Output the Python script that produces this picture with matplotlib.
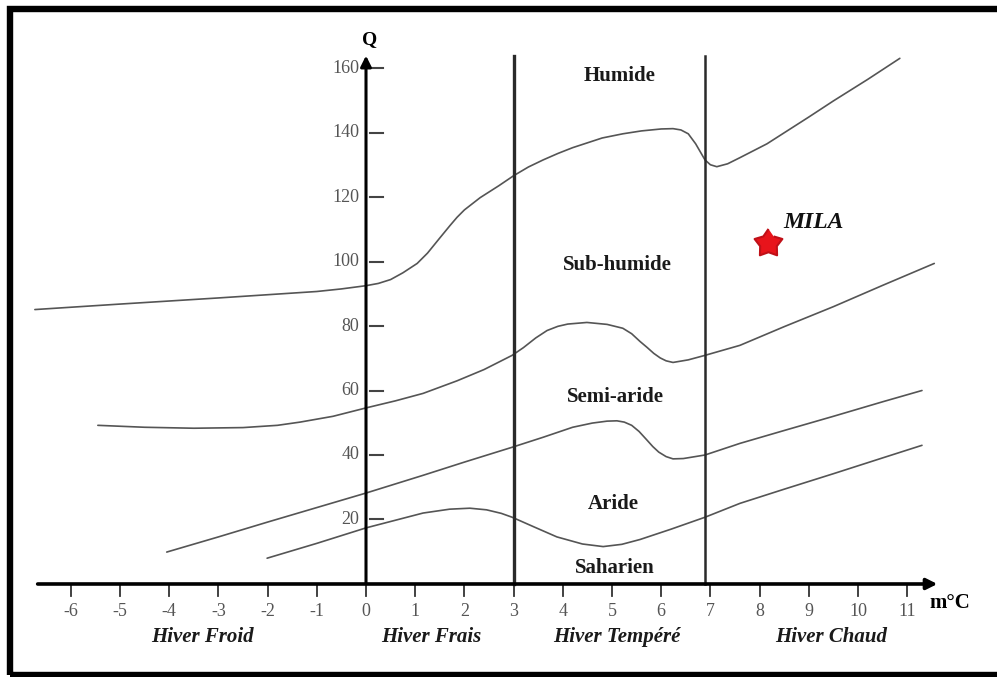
import numpy as np
import matplotlib.pyplot as plt
from matplotlib.patches import Rectangle

# Emberger climagram: Q (pluviothermic quotient) vs m (mean min temp of coldest month)
c1_x = [-6.73, -5, -3, -1, -0.5, 0, 0.25, 0.5, 0.75, 1.04, 1.25, 1.5, 1.71, 1.85, 2.0, 2.32, 2.7, 3.0, 3.3, 3.6, 3.9,
        4.2, 4.5, 4.8, 5.22, 5.6, 6.0, 6.24, 6.4, 6.55, 6.7, 6.89, 7.0, 7.13, 7.35, 7.6, 8.15, 9.0, 9.5, 10.2, 10.85]
c1_q = [85.1, 86.8, 88.7, 90.7, 91.5, 92.5, 93.2, 94.4, 96.5, 99.4, 102.6, 107.3, 111.2, 113.7, 116.0, 119.8, 123.5, 126.6, 129.3, 131.5, 133.5,
        135.3, 136.8, 138.3, 139.6, 140.5, 141.1, 141.2, 140.8, 139.6, 136.5, 131.5, 130.0, 129.4, 130.3, 132.2, 136.5, 144.8, 149.8, 156.5, 163.0]

c2_x = [-5.45, -4.5, -3.5, -2.5, -1.8, -1.34, -0.67, 0, 0.6, 1.16, 1.85, 2.4, 2.97, 3.2, 3.45, 3.68, 3.9, 4.1, 4.49, 4.9,
        5.22, 5.4, 5.57, 5.71, 5.85, 5.98, 6.1, 6.24, 6.55, 6.89, 7.6, 8.5, 9.5, 10.5, 11.55]
c2_q = [49.2, 48.6, 48.3, 48.5, 49.2, 50.2, 52.0, 54.6, 56.8, 59.1, 63.0, 66.5, 70.9, 73.3, 76.3, 78.6, 79.9, 80.6, 81.1, 80.5,
        79.3, 77.6, 75.2, 73.4, 71.5, 70.1, 69.2, 68.7, 69.5, 70.9, 74.0, 79.8, 86.0, 92.6, 99.4]

c3_x = [-4.05, -3, -2, -1, 0, 1.16, 2, 2.97, 3.6, 4.2, 4.6, 4.9, 5.1, 5.25, 5.4, 5.55, 5.7, 5.83, 5.95, 6.1,
        6.24, 6.45, 6.89, 7.6, 8.5, 9.5, 10.5, 11.3]
c3_q = [9.9, 14.6, 19.2, 23.7, 28.2, 33.7, 37.8, 42.4, 45.5, 48.6, 49.9, 50.5, 50.6, 50.2, 49.2, 47.3, 44.8, 42.6, 40.9, 39.5,
        38.8, 38.9, 40.0, 43.6, 47.6, 52.0, 56.5, 60.0]

c4_x = [-2.01, -1, 0, 1.16, 1.7, 2.11, 2.45, 2.75, 2.97, 3.4, 3.88, 4.4, 4.82, 5.2, 5.57, 6.2, 6.89, 7.6, 8.5, 9.5,
        10.5, 11.3]
c4_q = [8.0, 12.6, 17.4, 22.0, 23.2, 23.5, 23.0, 21.9, 20.7, 17.8, 14.6, 12.4, 11.6, 12.3, 13.8, 17.0, 20.7, 25.0, 29.4, 34.2,
        39.1, 43.0]

x_ticks = list(range(-6, 12))
y_ticks = [20, 40, 60, 80, 100, 120, 140, 160]
winter_limits = [3, 6.9]

zones = ["Humide", "Sub-humide", "Semi-aride", "Aride", "Saharien"]
zone_q = [157.5, 98.9, 58.0, 24.8, 5.0]
zone_x = [5.16, 5.1, 5.06, 5.02, 5.06]

winters = ["Hiver Froid", "Hiver Frais", "Hiver Tempéré", "Hiver Chaud"]
winter_x = [-3.32, 1.32, 5.1, 9.45]

station = "MILA"
station_m = 8.17
station_q = 105.7

fig = plt.figure(figsize=(9.97, 6.77), dpi=100)
ax = fig.add_axes([0, 0, 1, 1])
ax.set_xlim(-7.439, 12.825)
ax.set_ylim(-28.84, 181.09)
ax.axis("off")

serif = "Liberation Serif"
curve_col = "#555555"

for cx, cq in [(c1_x, c1_q), (c2_x, c2_q), (c3_x, c3_q), (c4_x, c4_q)]:
    ax.plot(cx, cq, color=curve_col, lw=1.2, solid_capstyle="round", solid_joinstyle="round")

# winter type boundaries
ax.plot([winter_limits[0]] * 2, [0, 163.8], color="#2a2a2a", lw=2.4)
ax.plot([winter_limits[1]] * 2, [0, 163.8], color="#2a2a2a", lw=1.8)

# axes with arrows
ax.annotate("", xy=(0, 164.7), xytext=(0, -0.5),
            arrowprops=dict(arrowstyle="-|>", lw=2.2, color="black", mutation_scale=16))
ax.annotate("", xy=(11.67, 0), xytext=(-6.73, 0),
            arrowprops=dict(arrowstyle="-|>", lw=2.6, color="black", mutation_scale=16))

for t in x_ticks:
    ax.plot([t, t], [0, -3.7], color="#333333", lw=1.3)
    ax.text(t, -8.4, str(t), ha="center", va="center", fontsize=13,
            family=serif, color="#555555")

for t in y_ticks:
    ax.plot([0.08, 0.35], [t, t], color="#444444", lw=1.5)
    ax.text(-0.14, t, str(t), ha="right", va="center", fontsize=13,
            family=serif, color="#555555")

ax.text(0.08, 168.7, "Q", ha="center", va="center", fontsize=14,
        family=serif, fontweight="bold")
ax.text(11.46, -5.9, "m°C", ha="left", va="center", fontsize=15,
        family=serif, fontweight="bold")

for name, zx, zq in zip(zones, zone_x, zone_q):
    ax.text(zx, zq, name, ha="center", va="center", fontsize=15,
            family=serif, fontweight="bold", color="#1a1a1a")

for name, wx in zip(winters, winter_x):
    ax.text(wx, -16.3, name, ha="center", va="center", fontsize=15,
            family=serif, fontweight="bold", style="italic", color="#1a1a1a")

# plump five-pointed star for the station
ang = np.pi / 2 + np.arange(10) * np.pi / 5
rad = np.where(np.arange(10) % 2 == 0, 1.0, 0.6)
star = np.column_stack([rad * np.cos(ang), rad * np.sin(ang)])
ax.plot(station_m, station_q, marker=star, markersize=21, color="#e8141b",
        markeredgecolor="#c01018", markeredgewidth=1.5, linestyle="none")
ax.text(8.48, 112.2, station, ha="left", va="center", fontsize=17,
        family=serif, fontweight="bold", style="italic", color="#111111")

# black frame (right side runs off the image)
W, H = 997, 677
fig.patches.append(Rectangle((10 / W, 1 - 674.5 / H), 1.05, (674.5 - 8.5) / H,
                             transform=fig.transFigure, fill=False,
                             edgecolor="black", lw=4.6))

fig.savefig("out.png", dpi=100)
